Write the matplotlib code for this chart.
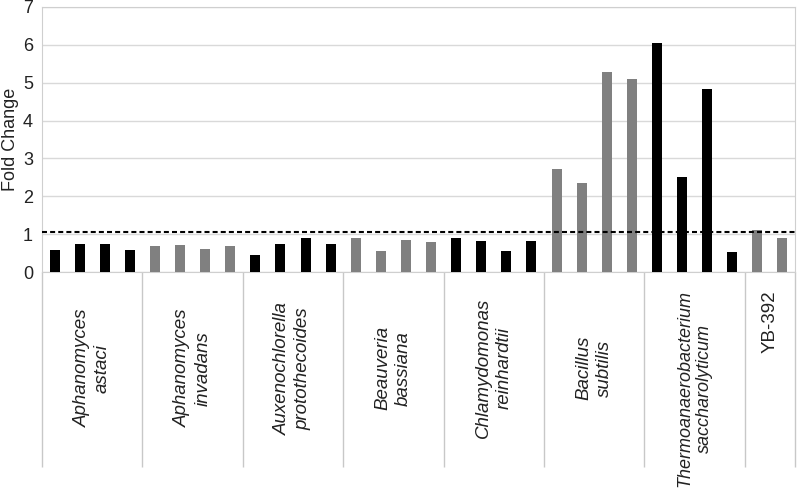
import numpy as np
import matplotlib.pyplot as plt
from matplotlib.transforms import blended_transform_factory

#==========Data==========
categories = ['Aphanomyces\nastaci', 'Aphanomyces\ninvadans', 'Auxenochlorella\nprotothecoides',
              'Beauveria\nbassiana', 'Chlamydomonas\nreinhardtii', 'Bacillus\nsubtilis',
              'Thermoanaerobacterium\nsaccharolyticum', 'YB-392']
bars_per_group = [4, 4, 4, 4, 4, 4, 4, 2]
fold_change = [0.57, 0.75, 0.73, 0.57,
               0.68, 0.72, 0.62, 0.68,
               0.45, 0.73, 0.89, 0.75,
               0.89, 0.56, 0.85, 0.79,
               0.89, 0.83, 0.56, 0.83,
               2.73, 2.36, 5.28, 5.11,
               6.05, 2.50, 4.83, 0.54,
               1.12, 0.89]
group_colors = ['black', '#808080', 'black', '#808080', 'black', '#808080', 'black', '#808080']
threshold = 1.05

plt.rcParams['font.family'] = ['Liberation Sans', 'DejaVu Sans']
plt.rcParams['font.size'] = 13.5

#==========Plot building==========
fig = plt.figure(figsize=(7.97, 4.95), dpi=100)
ax = fig.add_axes([0.0527, 0.4505, 0.9448, 0.5354])

colors = []
for n, c in zip(bars_per_group, group_colors):
    colors += [c] * n
x = np.arange(len(fold_change))
ax.bar(x, fold_change, width=0.4, color=colors, zorder=3)
ax.axhline(threshold, color='black', lw=1.5, dashes=(2.4, 1.5), zorder=4)

ax.set_xlim(-0.5, len(fold_change) - 0.5)
ax.set_ylim(0, 7)
ax.set_yticks(range(8))
ax.yaxis.grid(True, color='#d9d9d9', lw=1, zorder=0)
ax.tick_params(axis='y', length=0, pad=6.5, labelsize=13, labelcolor='#222222')
ax.set_xticks([])
ax.set_ylabel('Fold Change', labelpad=3, fontsize=13, color='#222222')
for s in ax.spines.values():
    s.set_color('#cfcfcf')

#==========Category separators & labels==========
trans = blended_transform_factory(ax.transData, ax.transAxes)
edges = np.concatenate([[0], np.cumsum(bars_per_group)]) - 0.5
ax.vlines(edges, -0.736, 0, transform=trans, color='#c8c8c8', lw=1, clip_on=False)
for i, label in enumerate(categories):
    mid = (edges[i] + edges[i + 1]) / 2
    if label.startswith('YB'):
        ax.text(mid, -0.07, label, transform=trans, rotation=90, ha='center', va='top',
                color='#222222')
    elif label.startswith('Thermo'):
        ax.text(mid, -0.068, label, transform=trans, rotation=90, ha='center', va='top',
                multialignment='center', style='italic', linespacing=1.25, fontsize=13,
                color='#222222')
    else:
        ax.text(mid, -0.363, label, transform=trans, rotation=90, ha='center', va='center',
                multialignment='center', style='italic', linespacing=1.25, color='#222222')

fig.savefig('out.png', dpi=100)
